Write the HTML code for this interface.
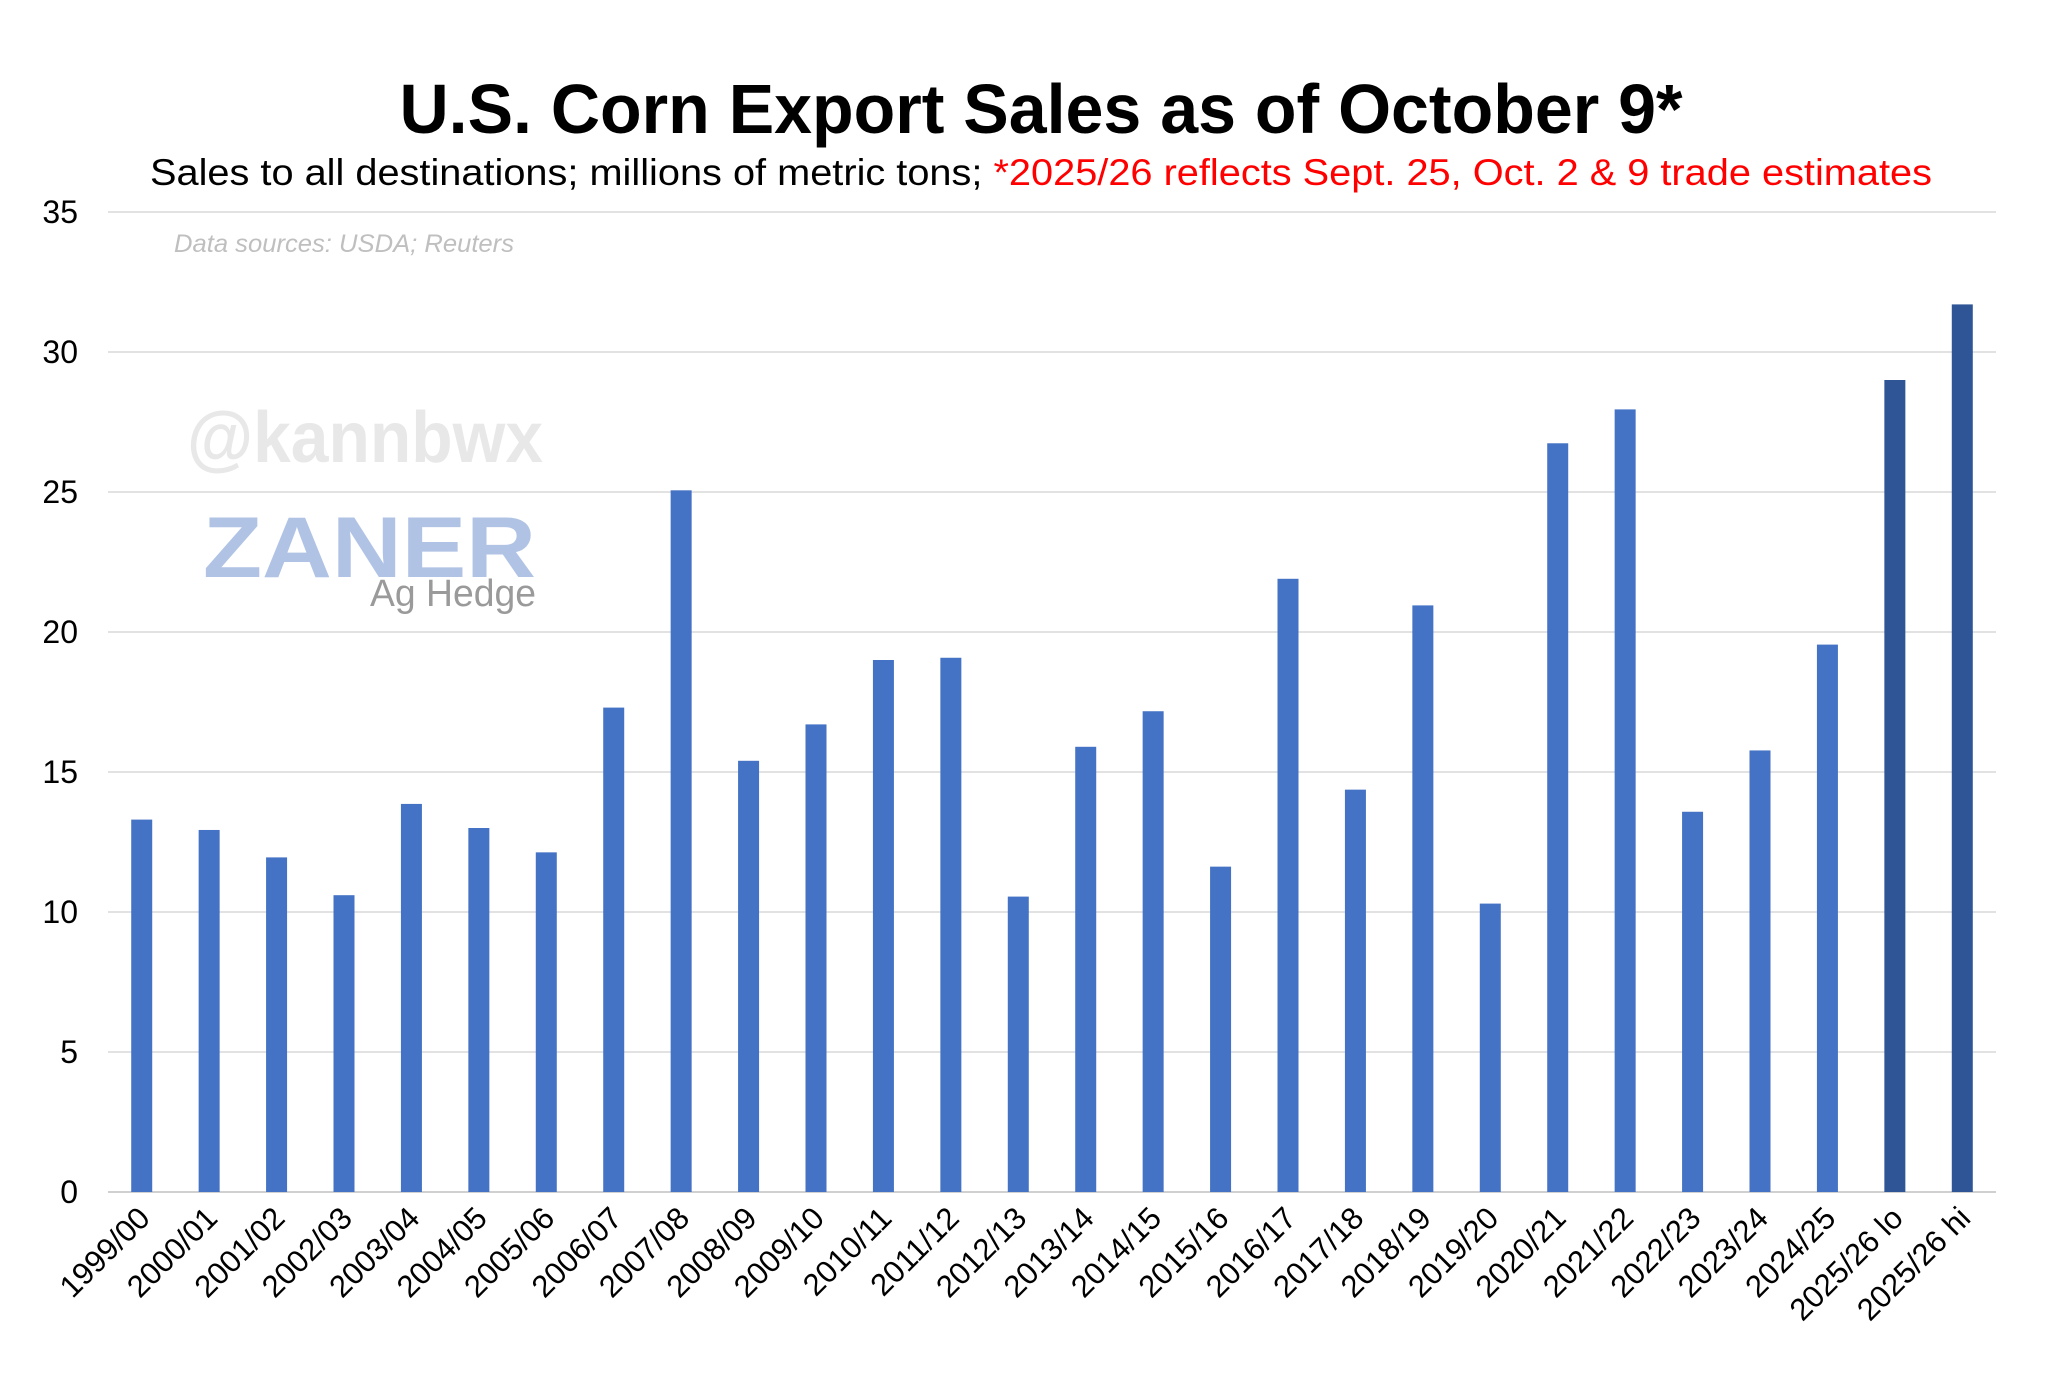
<!DOCTYPE html>
<html><head><meta charset="utf-8"><style>
html,body{margin:0;padding:0;background:#fff}
svg{display:block;font-family:"Liberation Sans",sans-serif}
</style></head><body>
<svg id="chart" width="2048" height="1383" viewBox="0 0 2048 1383" xmlns="http://www.w3.org/2000/svg">
<text x="1041" y="133" text-anchor="middle" font-size="70" font-weight="bold" textLength="1283" lengthAdjust="spacingAndGlyphs">U.S. Corn Export Sales as of October 9*</text>
<text x="150" y="185" font-size="37" textLength="1782" lengthAdjust="spacingAndGlyphs">Sales to all destinations; millions of metric tons; <tspan fill="#ff0000">*2025/26 reflects Sept. 25, Oct. 2 &amp; 9 trade estimates</tspan></text>
<g id="grid"></g>
<g id="ylabels"></g>
<text x="174" y="252" font-size="25" font-style="italic" fill="#bfbfbf" textLength="340" lengthAdjust="spacingAndGlyphs">Data sources: USDA; Reuters</text>
<text x="187" y="462" font-size="72" font-weight="bold" fill="#e8e8e8" textLength="356" lengthAdjust="spacingAndGlyphs">@kannbwx</text>
<text x="203" y="577" font-size="86" font-weight="bold" fill="#b1c3e5" textLength="333" lengthAdjust="spacingAndGlyphs">ZANER</text>
<text x="370" y="606" font-size="38" fill="#9a9a9a" textLength="166" lengthAdjust="spacingAndGlyphs">Ag Hedge</text>
<g id="bars"></g>
<g id="xlabels"></g>
</svg>
<script>
const categories = ["1999/00","2000/01","2001/02","2002/03","2003/04","2004/05","2005/06","2006/07","2007/08","2008/09","2009/10","2010/11","2011/12","2012/13","2013/14","2014/15","2015/16","2016/17","2017/18","2018/19","2019/20","2020/21","2021/22","2022/23","2023/24","2024/25","2025/26 lo","2025/26 hi"];
const sales = [13.3,12.93,11.95,10.6,13.86,13.0,12.13,17.3,25.06,15.4,16.7,19.0,19.08,10.55,15.9,17.17,11.62,21.9,14.37,20.95,10.3,26.74,27.95,13.58,15.77,19.55,29.0,31.7];
const estimateFlags = [0,0,0,0,0,0,0,0,0,0,0,0,0,0,0,0,0,0,0,0,0,0,0,0,0,0,1,1];
const yTicks = [0,5,10,15,20,25,30,35];

const NS="http://www.w3.org/2000/svg";
const L=108,R=1996,Y0=1192,Ytop=212,YMAX=35;
const bw=(R-L)/categories.length;
function y(v){return Y0-(v/YMAX)*(Y0-Ytop);}
function x(i){return L+bw*(i+0.5);}
function mk(t,a,p){const e=document.createElementNS(NS,t);for(const k in a)e.setAttribute(k,a[k]);p.appendChild(e);return e;}
const grid=document.getElementById('grid'),yl=document.getElementById('ylabels');
yTicks.forEach(v=>{
  const ln=mk('line',{x1:L,x2:R,y1:y(v),y2:y(v),stroke:v===0?'#d0d0d0':'#d9d9d9','stroke-width':v===0?2:1.5},grid);
  
  
  const t=mk('text',{x:78,y:y(v)+11,'text-anchor':'end','font-size':32},yl);
  t.textContent=v;
  
  
});
const bars=document.getElementById('bars'),xl=document.getElementById('xlabels');
categories.forEach((c,i)=>{
  const w=21;
  const r=mk('rect',{x:x(i)-w/2,y:y(sales[i]),width:w,height:Y0-y(sales[i]),fill:estimateFlags[i]?'#2f5597':'#4472c4'},bars);
  
  
  const tx=x(i)+10,ty=1220;
  const t=mk('text',{x:tx,y:ty,'text-anchor':'end','font-size':31,transform:'rotate(-45 '+tx+' '+ty+')'},xl);
  t.textContent=c;
  
  
});
</script>
</body></html>
